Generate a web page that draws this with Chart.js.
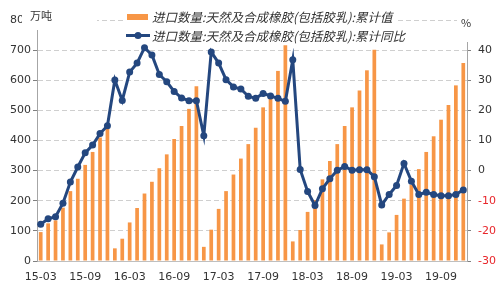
<!DOCTYPE html>
<html><head><meta charset="utf-8">
<script src="https://cdn.jsdelivr.net/npm/chart.js@4.4.1/dist/chart.umd.min.js"></script>
<style>html,body{margin:0;padding:0;background:#fff}#wrap{width:500px;height:286px;position:relative}</style>
</head><body><div id="wrap"><canvas id="c" width="500" height="286"></canvas></div>
<script>
const months = ['15-03','15-04','15-05','15-06','15-07','15-08','15-09','15-10','15-11','15-12',
'16-01','16-02','16-03','16-04','16-05','16-06','16-07','16-08','16-09','16-10','16-11','16-12',
'17-01','17-02','17-03','17-04','17-05','17-06','17-07','17-08','17-09','17-10','17-11','17-12',
'18-01','18-02','18-03','18-04','18-05','18-06','18-07','18-08','18-09','18-10','18-11','18-12',
'19-01','19-02','19-03','19-04','19-05','19-06','19-07','19-08','19-09','19-10','19-11','19-12'];
const importCum = [96,125,135,177,232,273,319,362,410,439,
42,74,128,176,224,263,308,354,405,448,505,580,
47,104,173,232,287,340,388,442,510,546,631,716,
65,103,163,202,271,332,388,448,510,566,633,701,
55,95,153,207,253,305,362,414,469,518,583,657];
const importYoY = [-17.8,-16.0,-15.3,-10.8,-3.8,1.2,5.9,8.5,12.3,14.9,
30.1,23.3,32.7,35.7,40.8,38.4,31.9,29.5,26.3,24.1,23.2,23.2,
11.6,39.4,35.7,30.2,27.8,27.1,24.7,24.0,25.6,24.8,24.0,23.0,
36.8,0.4,-6.9,-11.6,-6.0,-2.7,0.1,1.4,0.1,0.3,0.3,-2.0,
-11.4,-7.9,-4.9,2.4,-3.5,-7.9,-7.2,-7.9,-8.3,-8.3,-7.9,-6.4];
const seriesNames = ['进口数量:天然及合成橡胶(包括胶乳):累计值','进口数量:天然及合成橡胶(包括胶乳):累计同比'];
const leftUnit = '万吨';
const rightUnit = '%';

const BAR = '#F79646', LINE = '#24477F';
const tickFont = {family:'"DejaVu Sans", sans-serif', size:11};

const overlay = {
  id:'overlay',
  afterDraw(chart){
    const ctx = chart.ctx;
    ctx.save();
    ctx.fillStyle = '#fff';
    ctx.fillRect(22, 6, 75, 24);
    ctx.fillRect(457, 6, 43, 36);
    ctx.fillStyle = '#333';
    ctx.font = '11px "Noto Sans CJK SC", sans-serif';
    ctx.textBaseline = 'middle';
    ctx.textAlign = 'left';
    ctx.fillText(leftUnit, 30, 16);
    ctx.fillText(rightUnit, 461, 23);
    ctx.font = 'italic 12.5px "Noto Sans CJK SC", sans-serif';
    const w1 = ctx.measureText(seriesNames[0]).width;
    const w2 = ctx.measureText(seriesNames[1]).width;
    ctx.fillStyle = '#fff';
    ctx.fillRect(124, 9, 28 + w1 + 4, 16);
    ctx.fillRect(122, 28, 30 + w2 + 4, 16);
    ctx.fillStyle = BAR;
    ctx.fillRect(127, 14, 21, 6);
    ctx.strokeStyle = LINE; ctx.lineWidth = 3;
    ctx.beginPath(); ctx.moveTo(126, 35.5); ctx.lineTo(150, 35.5); ctx.stroke();
    ctx.fillStyle = LINE;
    ctx.beginPath(); ctx.arc(138, 35.5, 3.5, 0, Math.PI*2); ctx.fill();
    ctx.fillStyle = '#333';
    ctx.fillText(seriesNames[0], 152, 17);
    ctx.fillText(seriesNames[1], 152, 36);
    ctx.restore();
  }
};

new Chart(document.getElementById('c'), {
  data: {
    labels: months,
    datasets: [
      {type:'line', label: seriesNames[1], data: importYoY, yAxisID:'y1', order:0,
       borderColor: LINE, backgroundColor: LINE, borderWidth: 3, pointRadius: 3.5,
       pointBackgroundColor: LINE, pointBorderColor: LINE, pointBorderWidth: 0, tension: 0},
      {type:'bar', label: seriesNames[0], data: importCum, yAxisID:'y', order:1,
       backgroundColor: BAR, barPercentage: 0.5, categoryPercentage: 1.0}
    ]
  },
  options: {
    responsive: false, animation: false,
    layout: {padding: {top: 20, left: 0, right: 0, bottom: 0}},
    plugins: {legend: {display: false}, tooltip: {enabled: false}},
    scales: {
      x: {
        type: 'category', offset: true,
        grid: {display: false, drawTicks: false},
        border: {display: true, color: '#BFBFBF'},
        ticks: {autoSkip: false, maxRotation: 0, minRotation: 0, padding: 10, color: '#333', font: tickFont,
                callback: (v, i) => i % 6 === 0 ? months[i] : ''},
        afterFit: s => { s.height = 25; }
      },
      y: {
        position: 'left', min: 0, max: 800,
        ticks: {stepSize: 100, padding: 2, color: '#333', font: tickFont},
        grid: {color: '#CFCFCF', tickColor: '#808080', tickLength: 4},
        border: {display: true, color: '#A6A6A6', dash: [5, 3]},
        afterFit: s => { s.width = 37; }
      },
      y1: {
        position: 'right', min: -30, max: 50,
        ticks: {stepSize: 10, padding: 7, font: tickFont,
                color: c => (c.tick && c.tick.value < 0) ? '#E8262B' : '#333',
                callback: v => v === 50 ? '' : v},
        grid: {drawOnChartArea: false, tickLength: 4, tickColor: '#808080', color: '#808080'},
        border: {display: true, color: '#A6A6A6'},
        afterFit: s => { s.width = 33; }
      }
    }
  },
  plugins: [overlay]
});
</script></body></html>
